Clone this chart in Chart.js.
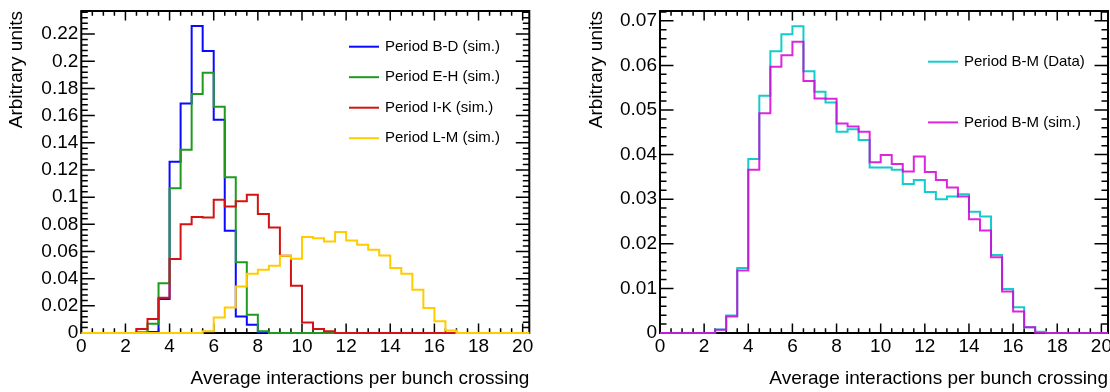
<!DOCTYPE html>
<html>
<head>
<meta charset="utf-8">
<script src="https://cdn.jsdelivr.net/npm/chart.js@4/dist/chart.umd.min.js"></script>
<style>
  html, body { margin: 0; padding: 0; background: #fff; }
  #wrap { position: relative; width: 1110px; height: 392px; }
  canvas { position: absolute; top: 0; }
</style>
</head>
<body>
<div id="wrap">
  <canvas id="periodsChart" width="555" height="392" style="left:0"></canvas>
  <canvas id="totalChart" width="555" height="392" style="left:555px"></canvas>
</div>
<script>
// pile-up histograms, bins of 0.5 starting at 0
const binWidth = 0.5;

const periodBD = [0, 0, 0, 0, 0, 0, 0.0008, 0.025, 0.126, 0.169, 0.226, 0.2075, 0.157, 0.0752, 0.0122, 0.006,
  0.0008, 0, 0, 0, 0, 0, 0, 0, 0, 0, 0, 0, 0, 0, 0, 0, 0, 0, 0, 0, 0, 0, 0, 0, 0];
const periodEH = [0, 0, 0, 0, 0, 0.0005, 0.0068, 0.0367, 0.1066, 0.1348, 0.176, 0.1916, 0.1666, 0.1147, 0.052, 0.0135,
  0.0012, 0, 0, 0, 0, 0, 0, 0, 0, 0, 0, 0, 0, 0, 0, 0, 0, 0, 0, 0, 0, 0, 0, 0, 0];
const periodIK = [0, 0, 0, 0, 0, 0.003, 0.0103, 0.026, 0.0544, 0.0801, 0.0853, 0.085, 0.098, 0.0931, 0.097, 0.1017,
  0.0875, 0.0776, 0.0568, 0.0348, 0.0078, 0.003, 0.0012, 0, 0, 0, 0, 0, 0, 0, 0, 0, 0, 0, 0, 0, 0, 0, 0, 0, 0];
const periodLM = [0, 0, 0, 0, 0, 0, 0, 0, 0, 0, 0, 0.0012, 0.0115, 0.0188, 0.0343, 0.0436,
  0.0466, 0.0495, 0.0568, 0.0547, 0.0706, 0.0698, 0.0674, 0.0743, 0.0681, 0.0649, 0.0612, 0.0571, 0.0478, 0.0436,
  0.0318, 0.0184, 0.0086, 0.0019, 0, 0, 0, 0, 0, 0, 0];

const periodBMData = [0, 0, 0, 0, 0, 0.0008, 0.0039, 0.01455, 0.039, 0.0532, 0.0632, 0.067, 0.0688, 0.0587, 0.0541, 0.0517,
  0.0451, 0.0457, 0.0433, 0.0371, 0.0371, 0.0366, 0.0334, 0.0343, 0.0316, 0.03, 0.0306, 0.0311, 0.0272, 0.0261,
  0.0175, 0.00985, 0.0058, 0.00127, 0.0003, 0, 0, 0, 0, 0, 0];
const periodBMSim = [0, 0, 0, 0, 0, 0.00075, 0.0037, 0.014, 0.0366, 0.0493, 0.0597, 0.0623, 0.0653, 0.0565, 0.0526, 0.0525,
  0.047, 0.0463, 0.0451, 0.0383, 0.0399, 0.0379, 0.0362, 0.0396, 0.0361, 0.0343, 0.0326, 0.0306, 0.0255, 0.023,
  0.017, 0.0093, 0.0048, 0.00127, 0, 0, 0, 0, 0, 0, 0];

const xTicks = [0, 2, 4, 6, 8, 10, 12, 14, 16, 18, 20];
const leftYTicks = [0, 0.02, 0.04, 0.06, 0.08, 0.1, 0.12, 0.14, 0.16, 0.18, 0.2, 0.22];
const rightYTicks = [0, 0.01, 0.02, 0.03, 0.04, 0.05, 0.06, 0.07];

const FONT = '"Liberation Sans", Arial, Helvetica, sans-serif';

// histogram contents -> points at bin low edges, plus the closing edge
function toSteps(values) {
  const pts = values.map((v, i) => ({ x: i * binWidth, y: v }));
  pts.push({ x: values.length * binWidth, y: values[values.length - 1] });
  return pts;
}

// later histograms are painted over earlier ones
function hist(label, values, color, idx) {
  return {
    label: label,
    data: toSteps(values),
    borderColor: color,
    borderWidth: 2,
    stepped: 'before',
    pointRadius: 0,
    fill: false,
    order: -idx,
    clip: { left: 0, top: 0, right: 0, bottom: 3 }
  };
}

function isMajor(v, step) {
  const r = v / step;
  return Math.abs(r - Math.round(r)) < 1e-6;
}

// frame with ticks pointing inwards on all four sides
const rootFrame = {
  id: 'rootFrame',
  beforeDatasetsDraw(chart, args, opts) {
    const { ctx, chartArea: a } = chart;
    const x = chart.scales.x, y = chart.scales.y;
    ctx.save();
    ctx.strokeStyle = '#000';
    ctx.lineWidth = 1.5;
    ctx.beginPath();
    for (let i = 0; ; i++) {
      const v = x.min + i * opts.xMinor;
      if (v > x.max + 1e-9) break;
      const px = x.getPixelForValue(v);
      const len = isMajor(v, opts.xMajor) ? 9.5 : 4.7;
      ctx.moveTo(px, a.bottom); ctx.lineTo(px, a.bottom - len);
      ctx.moveTo(px, a.top); ctx.lineTo(px, a.top + len);
    }
    for (let i = 0; ; i++) {
      const v = y.min + i * opts.yMinor;
      if (v > y.max + 1e-9) break;
      const py = y.getPixelForValue(v);
      const len = isMajor(v, opts.yMajor) ? 13.5 : 6.5;
      ctx.moveTo(a.left, py); ctx.lineTo(a.left + len, py);
      ctx.moveTo(a.right, py); ctx.lineTo(a.right - len, py);
    }
    ctx.stroke();
    ctx.lineWidth = 2;
    ctx.strokeRect(a.left, a.top, a.right - a.left, a.bottom - a.top);
    ctx.restore();
  }
};

// legend: short line + label, one row per dataset
const boxLegend = {
  id: 'boxLegend',
  afterDraw(chart, args, opts) {
    const ctx = chart.ctx;
    ctx.save();
    ctx.font = '15px ' + FONT;
    ctx.textBaseline = 'middle';
    ctx.textAlign = 'left';
    chart.data.datasets.forEach((ds, i) => {
      const y = opts.top + i * opts.rowGap;
      ctx.strokeStyle = ds.borderColor;
      ctx.lineWidth = 2;
      ctx.beginPath();
      ctx.moveTo(opts.left, y);
      ctx.lineTo(opts.left + 30, y);
      ctx.stroke();
      ctx.fillStyle = '#000';
      ctx.fillText(ds.label, opts.left + 36, y);
    });
    ctx.restore();
  }
};

function makeOptions(yMax, yTicks, yMinor, yMajor, yWidth, padding, legend) {
  const tickFont = { family: FONT, size: 19 };
  return {
    responsive: false,
    animation: false,
    layout: { padding: padding },
    plugins: {
      legend: { display: false },
      tooltip: { enabled: false },
      rootFrame: { xMinor: 0.5, xMajor: 2, yMinor: yMinor, yMajor: yMajor },
      boxLegend: legend
    },
    scales: {
      x: {
        type: 'linear',
        min: 0,
        max: 20.3,
        afterBuildTicks: s => { s.ticks = xTicks.map(v => ({ value: v })); },
        afterFit: s => { s.height = 59; s.paddingLeft = 0; s.paddingRight = 0; },
        grid: { display: false, drawTicks: false },
        border: { display: false },
        ticks: { padding: 2, color: '#000', font: tickFont, autoSkip: false, maxRotation: 0, callback: v => String(v) },
        title: {
          display: true, text: 'Average interactions per bunch crossing', align: 'end',
          color: '#000', font: tickFont, padding: { top: 0, bottom: 2 }
        }
      },
      y: {
        type: 'linear',
        min: 0,
        max: yMax,
        afterBuildTicks: s => { s.ticks = yTicks.map(v => ({ value: v })); },
        afterFit: s => { s.width = yWidth; s.paddingTop = 0; s.paddingBottom = 0; },
        grid: { display: false, drawTicks: false },
        border: { display: false },
        ticks: { padding: 3, color: '#000', font: tickFont, autoSkip: false, callback: v => String(+v.toFixed(4)) },
        title: {
          display: true, text: 'Arbitrary units', align: 'end',
          color: '#000', font: tickFont, padding: { top: 0, bottom: 0 }
        }
      }
    }
  };
}

new Chart(document.getElementById('periodsChart'), {
  type: 'line',
  data: {
    datasets: [
      hist('Period B-D (sim.)', periodBD, '#0a0aff', 0),
      hist('Period E-H (sim.)', periodEH, '#1f9a1f', 1),
      hist('Period I-K (sim.)', periodIK, '#d41414', 2),
      hist('Period L-M (sim.)', periodLM, '#ffcc00', 3)
    ]
  },
  options: makeOptions(0.237, leftYTicks, 0.004, 0.02, 76.3,
    { left: 5, top: 11, right: 25.7, bottom: 0 },
    { left: 349, top: 46.7, rowGap: 30.5 }),
  plugins: [rootFrame, boxLegend]
});

new Chart(document.getElementById('totalChart'), {
  type: 'line',
  data: {
    datasets: [
      hist('Period B-M (Data)', periodBMData, '#14cccc', 0),
      hist('Period B-M (sim.)', periodBMSim, 'rgba(214, 0, 214, 0.85)', 1)
    ]
  },
  options: makeOptions(0.0722, rightYTicks, 0.002, 0.01, 75,
    { left: 30, top: 11, right: 2, bottom: 0 },
    { left: 373, top: 61.7, rowGap: 60.7 }),
  plugins: [rootFrame, boxLegend]
});
</script>
</body>
</html>
